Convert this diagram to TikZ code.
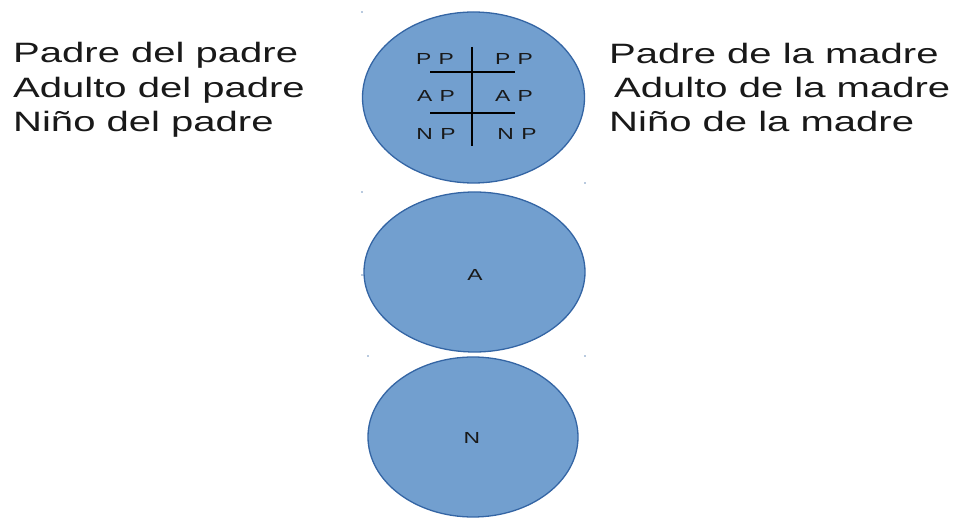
\documentclass[tikz,border=0pt]{standalone}
\usepackage{fontspec}
\usetikzlibrary{shapes.geometric}
\newfontfamily\bigfont[FakeStretch=1.43]{Liberation Sans}
\newfontfamily\smallfont[FakeStretch=1.43,LetterSpace=6]{Liberation Sans}
\definecolor{cfill}{HTML}{729FCF}
\definecolor{cline}{HTML}{3465A4}
\tikzset{
  blob/.style={ellipse, draw=cline, fill=cfill, line width=1.3pt, inner sep=0pt},
  bigtxt/.style={anchor=base west, inner sep=0pt, font=\bigfont\fontsize{28}{28}\selectfont, text=black!90},
  smalltxt/.style={inner sep=0pt, font=\smallfont\fontsize{16}{16}\selectfont, text=black!90},
  grid/.style={line width=1.4pt, black},
  handle/.style={fill=cline!70, inner sep=0pt, minimum size=1.6pt, circle}
}
\begin{document}
\begin{tikzpicture}[x=1pt,y=-1pt]
\useasboundingbox (0,0) rectangle (954,518);
% ellipses
\node[blob, minimum width=222pt, minimum height=171pt] (e1) at (473.5,97.5) {};
\node[blob, minimum width=221pt, minimum height=160pt] (e2) at (474.5,272) {};
\node[blob, minimum width=210pt, minimum height=160pt] (e3) at (473,437) {};
% grid inside e1
\coordinate (vt) at (472,47);
\coordinate (vb) at (472,146);
\coordinate (h1l) at (430,72);
\coordinate (h1r) at (515,72);
\coordinate (h2l) at (430,113);
\coordinate (h2r) at (515,113);
\draw[grid] (vt) -- (vb);
\draw[grid] (h1l) -- (h1r);
\draw[grid] (h2l) -- (h2r);
% labels inside
\node[smalltxt] (pp1) at (435,59) {P P};
\node[smalltxt] (pp2) at (514,59) {P P};
\node[smalltxt] (ap1) at (436,96) {A P};
\node[smalltxt] (ap2) at (514,96) {A P};
\node[smalltxt] (np1) at (436,134) {N P};
\node[smalltxt] (np2) at (517,134) {N P};
\node[smalltxt] (la) at (475,275) {A};
\node[smalltxt] (ln) at (472,438) {N};
% side texts
\node[bigtxt] (l1) at (13,63) {Padre del padre};
\node[bigtxt] (l2) at (13,97.5) {Adulto del padre};
\node[bigtxt] (l3) at (13,132) {Niño del padre};
\node[bigtxt] (r1) at (609,63.5) {Padre de la madre};
\node[bigtxt] (r2) at (614,98) {Adulto de la madre};
\node[bigtxt] (r3) at (609,132) {Niño de la madre};
% selection handles
\node[handle] (d1) at (362,12) {};
\node[handle] (d2) at (585,183) {};
\node[handle] (d3) at (362,192) {};
\node[handle] (d4) at (362,275) {};
\node[handle] (d5) at (368,356) {};
\node[handle] (d6) at (585,356) {};
\end{tikzpicture}
\end{document}
